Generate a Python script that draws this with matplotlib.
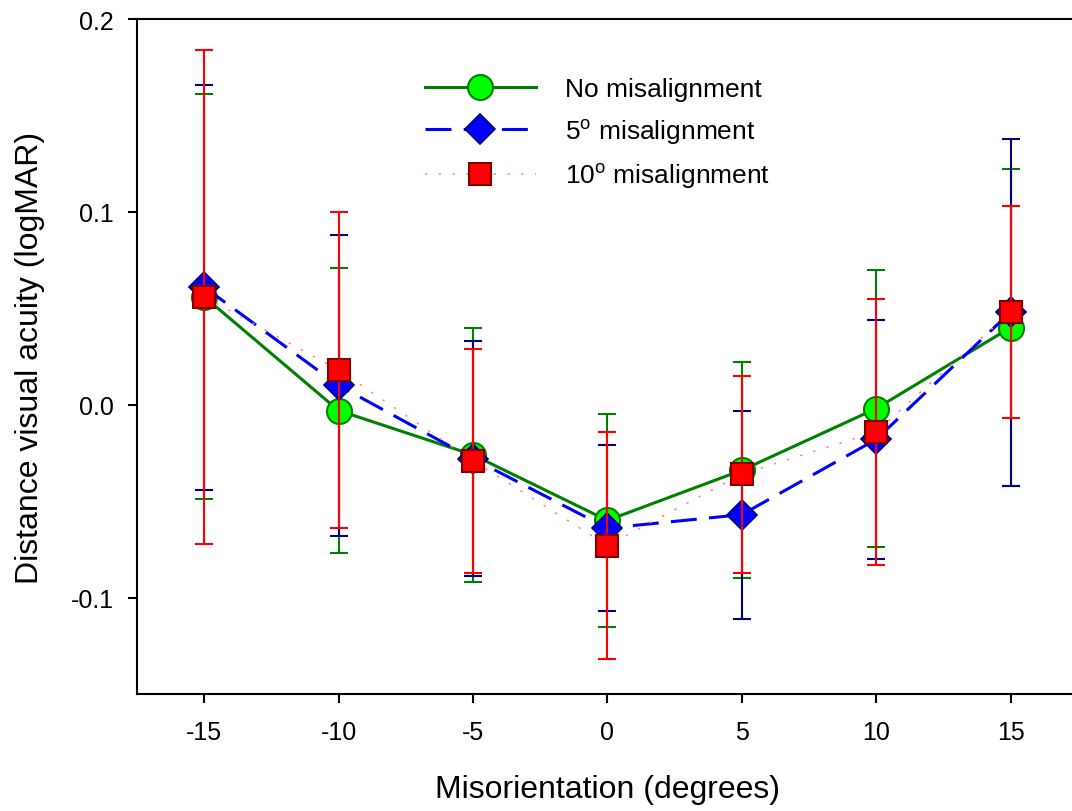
import matplotlib
matplotlib.use("Agg")
import matplotlib.pyplot as plt

plt.rcParams['font.family'] = ['Liberation Sans', 'DejaVu Sans']
plt.rcParams['mathtext.fontset'] = 'custom'
plt.rcParams['mathtext.rm'] = 'Liberation Sans'

misorientation = [-15, -10, -5, 0, 5, 10, 15]

no_mis_mean = [0.056, -0.003, -0.026, -0.060, -0.034, -0.002, 0.040]
no_mis_sd = [0.105, 0.074, 0.066, 0.055, 0.056, 0.072, 0.082]

mis5_mean = [0.061, 0.010, -0.028, -0.064, -0.057, -0.018, 0.048]
mis5_sd = [0.105, 0.078, 0.061, 0.043, 0.054, 0.062, 0.090]

mis10_mean = [0.056, 0.018, -0.029, -0.073, -0.036, -0.014, 0.048]
mis10_sd = [0.128, 0.082, 0.058, 0.059, 0.051, 0.069, 0.055]

labels = ['No misalignment', r'5$^\mathregular{o}$ misalignment', r'10$^\mathregular{o}$ misalignment']

fig = plt.figure(figsize=(10.72, 8.12), dpi=100)
ax = fig.add_axes([137/1072, 1 - 695/812, (1077.7 - 137)/1072, (695 - 20)/812])

# Series 1
ax.errorbar(misorientation, no_mis_mean, yerr=no_mis_sd, fmt='none', ecolor='#008000',
            elinewidth=1.5, capsize=6.8, capthick=1.5, zorder=2)
ax.plot(misorientation, no_mis_mean, color='#008000', lw=2.2, marker='o', ms=18,
        mfc='#00FF00', mec='#008000', mew=1.5, zorder=2.1, label=labels[0])
# Series 2
ax.errorbar(misorientation, mis5_mean, yerr=mis5_sd, fmt='none', ecolor='#000080',
            elinewidth=1.5, capsize=6.8, capthick=1.5, zorder=3)
ax.plot(misorientation, mis5_mean, color='#0000FF', lw=2.2, ls=(0, (8.5, 4)), marker='D', ms=15.5,
        mfc='#0000FF', mec='#000080', mew=1.2, zorder=3.1, label=labels[1])
# Series 3
ax.errorbar(misorientation, mis10_mean, yerr=mis10_sd, fmt='none', ecolor='#FF0000',
            elinewidth=1.5, capsize=6.8, capthick=1.5, zorder=4)
ax.plot(misorientation, mis10_mean, color='#FF8080', lw=1.1, ls=(0, (1.5, 7.5)), marker='s', ms=16,
        mfc='#FF0000', mec='#800000', mew=1.5, zorder=4.1, label=labels[2])

ax.set_xlim(-17.5, 17.5)
ax.set_ylim(-0.15, 0.2)
ax.set_xticks(misorientation)
ax.set_yticks([-0.1, 0.0, 0.1, 0.2])
ax.set_yticklabels(['-0.1', '0.0', '0.1', '0.2'])
ax.set_xticklabels([str(v) for v in misorientation])

for s in ['left', 'bottom', 'top']:
    ax.spines[s].set_linewidth(1.5)
ax.spines['right'].set_visible(False)
ax.tick_params(axis='both', direction='out', length=6.5, width=1.5, labelsize=18)
ax.tick_params(axis='x', pad=12)
ax.tick_params(axis='y', pad=10)

ax.set_xlabel('Misorientation (degrees)', fontsize=23, labelpad=22)
ax.set_ylabel('Distance visual acuity (logMAR)', fontsize=23, labelpad=19)

leg = ax.legend(loc='upper left', bbox_to_anchor=(425/1072, 1 - 78/812), bbox_transform=fig.transFigure,
                frameon=False, fontsize=19, handlelength=4.2, handletextpad=1.1, labelspacing=0.57,
                borderpad=0, borderaxespad=0, numpoints=1)

fig.savefig('out.png', dpi=100)
